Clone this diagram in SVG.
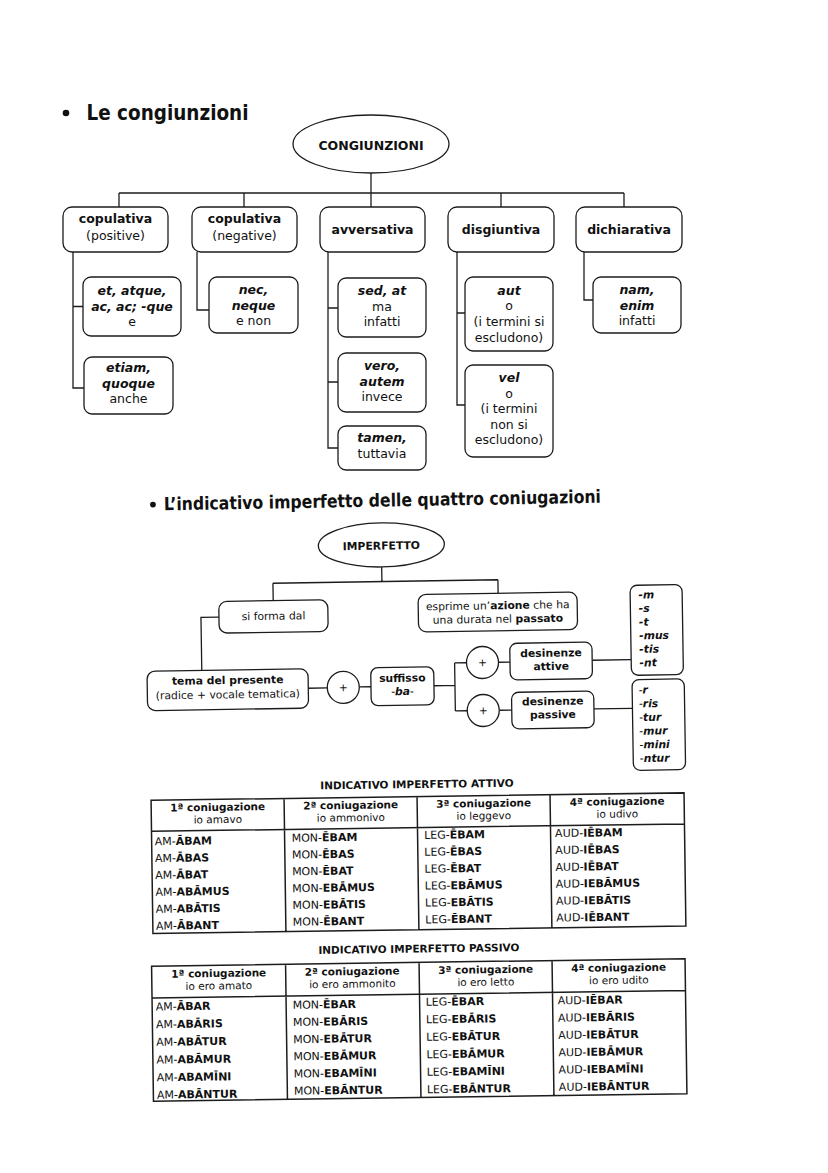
<svg xmlns="http://www.w3.org/2000/svg" width="828" height="1173" viewBox="0 0 828 1173">
<style>
.ln{fill:none;stroke:#1c1c1c;stroke-width:1.3}
.bx{fill:#fff;stroke:#1c1c1c;stroke-width:1.3}
.tb{fill:none;stroke:#1c1c1c;stroke-width:1.5}
text{font-family:"DejaVu Sans",Verdana,sans-serif;fill:#111}
.t{font-size:12.5px;text-anchor:middle}
.s{font-size:10.8px;text-anchor:middle}
.e{font-size:10.8px;font-weight:bold;font-style:italic}
.d{font-size:11px}
.h{font-size:10.5px;text-anchor:middle}
.b{font-weight:bold}
.bi{font-weight:bold;font-style:italic}
.r{font-weight:normal;font-style:normal}
</style>
<rect width="828" height="1173" fill="#fff"/>

<!-- Section 1 title -->
<g id="title1">
<circle cx="66" cy="113" r="3.3" fill="#111"/>
<text x="86.5" y="120" font-size="20.5" font-weight="bold" textLength="162" lengthAdjust="spacingAndGlyphs">Le congiunzioni</text>
</g>

<!-- connectors section 1 -->
<g id="connectors1" class="ln">
<path d="M371 173V207"/>
<path d="M119 193H624M119 193V207M244 193V207M501 193V207M624 193V207"/>
<path d="M73 252V388H84M73 306.5H83"/>
<path d="M197 252V310H209"/>
<path d="M328 252V448H338M328 308H338M328 382H338"/>
<path d="M457 252V405H465M457 313H465"/>
<path d="M584 252V300H593"/>
</g>

<g id="congiunzioni">
<ellipse class="bx" cx="371" cy="144" rx="78" ry="29"/>
<text class="t b" x="371" y="149.5" font-size="12">CONGIUNZIONI</text>
</g>
<g id="copulativa-pos">
<rect class="bx" x="63" y="207" width="105" height="45" rx="9"/>
<text class="t b" x="115.5" y="223" font-size="12.2">copulativa</text>
<text class="t" x="115.5" y="240">(positive)</text>
</g>
<g id="copulativa-neg">
<rect class="bx" x="192" y="207" width="105" height="45" rx="9"/>
<text class="t b" x="244.5" y="223" font-size="12.2">copulativa</text>
<text class="t" x="244.5" y="240">(negative)</text>
</g>
<g id="avversativa">
<rect class="bx" x="320" y="207" width="105" height="45" rx="9"/>
<text class="t b" x="372.5" y="234" font-size="12.2">avversativa</text>
</g>
<g id="disgiuntiva">
<rect class="bx" x="448" y="207" width="106" height="45" rx="9"/>
<text class="t b" x="501" y="234" font-size="12.2">disgiuntiva</text>
</g>
<g id="dichiarativa">
<rect class="bx" x="576" y="207" width="106" height="45" rx="9"/>
<text class="t b" x="629" y="234" font-size="12.2">dichiarativa</text>
</g>

<g id="et">
<rect class="bx" x="83" y="277" width="98" height="59" rx="8"/>
<text class="t bi" x="132" y="295">et, atque,</text>
<text class="t bi" x="132" y="310.5">ac, ac; -que</text>
<text class="t" x="132" y="326">e</text>
</g>
<g id="etiam">
<rect class="bx" x="84" y="357" width="89" height="57" rx="8"/>
<text class="t bi" x="128.5" y="372">etiam,</text>
<text class="t bi" x="128.5" y="387.5">quoque</text>
<text class="t" x="128.5" y="403">anche</text>
</g>
<g id="nec">
<rect class="bx" x="209" y="277" width="89" height="56" rx="8"/>
<text class="t bi" x="253.5" y="294">nec,</text>
<text class="t bi" x="253.5" y="309.5">neque</text>
<text class="t" x="253.5" y="325">e non</text>
</g>
<g id="sed">
<rect class="bx" x="338" y="278" width="88" height="59" rx="8"/>
<text class="t bi" x="382" y="295">sed, at</text>
<text class="t" x="382" y="310.5">ma</text>
<text class="t" x="382" y="326">infatti</text>
</g>
<g id="vero">
<rect class="bx" x="338" y="353" width="88" height="59" rx="8"/>
<text class="t bi" x="382" y="370">vero,</text>
<text class="t bi" x="382" y="385.5">autem</text>
<text class="t" x="382" y="401">invece</text>
</g>
<g id="tamen">
<rect class="bx" x="338" y="426" width="88" height="44" rx="8"/>
<text class="t bi" x="382" y="442">tamen,</text>
<text class="t" x="382" y="457.5">tuttavia</text>
</g>
<g id="aut">
<rect class="bx" x="465" y="277" width="88" height="74" rx="8"/>
<text class="t bi" x="509" y="294.5">aut</text>
<text class="t" x="509" y="310">o</text>
<text class="t" x="509" y="326">(i termini si</text>
<text class="t" x="509" y="342">escludono)</text>
</g>
<g id="vel">
<rect class="bx" x="465" y="365" width="88" height="92" rx="8"/>
<text class="t bi" x="509" y="382">vel</text>
<text class="t" x="509" y="397.5">o</text>
<text class="t" x="509" y="413">(i termini</text>
<text class="t" x="509" y="428.5">non si</text>
<text class="t" x="509" y="444">escludono)</text>
</g>
<g id="nam">
<rect class="bx" x="593" y="277" width="88" height="56" rx="8"/>
<text class="t bi" x="637" y="294">nam,</text>
<text class="t bi" x="637" y="309.5">enim</text>
<text class="t" x="637" y="325">infatti</text>
</g>

<!-- Section 2 title -->
<g id="title2" transform="rotate(-1 385 506)">
<circle cx="153" cy="500.5" r="2.9" fill="#111"/>
<text x="164" y="506.5" font-size="18" font-weight="bold" textLength="437" lengthAdjust="spacingAndGlyphs">L’indicativo imperfetto delle quattro coniugazioni</text>
</g>

<!-- Imperfetto diagram -->
<g transform="rotate(-0.9 418 650)">
<g id="connectors2" class="ln">
<path d="M383 566.4V581M274 581H499M274 581V598.4M499 581V594.5"/>
<path d="M219.5 614H201.5V667"/>
<path d="M307.7 686.5H326.7M358.7 686H370.4"/>
<path d="M433.4 686H454.4M454.4 663.5V711.5M454.4 663.5H466.3M454.4 711.5H466.3"/>
<path d="M498.3 663.5H509.8M498.3 711.5H510.8"/>
<path d="M592 663H631M593 711.7H631.5"/>
</g>
<g id="imperfetto">
<ellipse class="bx" cx="383" cy="544.4" rx="63" ry="22"/>
<text class="s b" x="383" y="549" font-size="10.5">IMPERFETTO</text>
</g>
<g id="si-forma">
<rect class="bx" x="219.5" y="598.4" width="109" height="31.6" rx="8"/>
<text class="s" x="274" y="617.5">si forma dal</text>
</g>
<g id="esprime">
<rect class="bx" x="418.9" y="594.5" width="159" height="37.5" rx="8"/>
<text class="s" x="498.4" y="610.5">esprime un’<tspan class="b">azione</tspan> che ha</text>
<text class="s" x="498.4" y="624">una durata nel <tspan class="b">passato</tspan></text>
</g>
<g id="tema">
<rect class="bx" x="146.7" y="667" width="161" height="39.4" rx="8"/>
<text class="s b" x="227.2" y="681">tema del presente</text>
<text class="s" x="227.2" y="695.3">(radice + vocale tematica)</text>
</g>
<g id="plus1">
<circle class="bx" cx="342.7" cy="686.2" r="16"/>
<text class="s" x="342.7" y="690">+</text>
</g>
<g id="suffisso">
<rect class="bx" x="370.4" y="667" width="63" height="38" rx="7"/>
<text class="s b" x="401.9" y="681.5">suffisso</text>
<text class="s" x="401.9" y="694.8">-<tspan class="bi">ba</tspan>-</text>
</g>
<g id="plus2">
<circle class="bx" cx="482.3" cy="663.5" r="16"/>
<text class="s" x="482.3" y="667.3">+</text>
</g>
<g id="plus3">
<circle class="bx" cx="482.3" cy="711.5" r="16"/>
<text class="s" x="482.3" y="715.3">+</text>
</g>
<g id="desinenze-attive">
<rect class="bx" x="509.8" y="644.8" width="82.2" height="36.6" rx="7"/>
<text class="s b" x="550.9" y="658.8">desinenze</text>
<text class="s b" x="550.9" y="672.1">attive</text>
</g>
<g id="desinenze-passive">
<rect class="bx" x="510.8" y="693.8" width="82.2" height="36.6" rx="7"/>
<text class="s b" x="551.9" y="707.1">desinenze</text>
<text class="s b" x="551.9" y="720.4">passive</text>
</g>
<g id="attive-list">
<rect class="bx" x="631" y="588.7" width="52" height="90" rx="7"/>
<text class="e" x="639.3" y="602">-m</text>
<text class="e" x="639.3" y="615.6">-s</text>
<text class="e" x="639.3" y="629.2">-t</text>
<text class="e" x="639.3" y="642.8">-mus</text>
<text class="e" x="639.3" y="656.4">-tis</text>
<text class="e" x="639.3" y="670">-nt</text>
</g>
<g id="passive-list">
<rect class="bx" x="631.5" y="683" width="52.2" height="90.8" rx="7"/>
<text class="e" x="638" y="697.1"><tspan class="r">-</tspan>r</text>
<text class="e" x="638" y="710.8"><tspan class="r">-</tspan>ris</text>
<text class="e" x="638" y="724.5"><tspan class="r">-</tspan>tur</text>
<text class="e" x="638" y="738.2"><tspan class="r">-</tspan>mur</text>
<text class="e" x="638" y="751.9"><tspan class="r">-</tspan>mini</text>
<text class="e" x="638" y="765.6"><tspan class="r">-</tspan>ntur</text>
</g>
</g>

<!-- Table 1 -->
<g id="tabella-attivo" transform="rotate(-0.8 418 865)">
<text class="h b" x="418" y="788" font-size="11.2">INDICATIVO IMPERFETTO ATTIVO</text>
<path class="tb" d="M152 796.6H685V929.7H152ZM152 827.6H685M285 796.6V929.7M418 796.6V929.7M551 796.6V929.7"/>
<text class="h b" x="218.5" y="808">1ª coniugazione</text>
<text class="h" x="218.5" y="820.4">io amavo</text>
<text class="h b" x="351.5" y="808">2ª coniugazione</text>
<text class="h" x="351.5" y="820.4">io ammonivo</text>
<text class="h b" x="484.5" y="808">3ª coniugazione</text>
<text class="h" x="484.5" y="820.4">io leggevo</text>
<text class="h b" x="618" y="808">4ª coniugazione</text>
<text class="h" x="618" y="820.4">io udivo</text>
<g class="d">
<text x="155" y="841.5">AM-<tspan class="b">ĀBAM</tspan></text>
<text x="155" y="858.4">AM-<tspan class="b">ĀBAS</tspan></text>
<text x="155" y="875.3">AM-<tspan class="b">ĀBAT</tspan></text>
<text x="155" y="892.2">AM-<tspan class="b">ABĀMUS</tspan></text>
<text x="155" y="909.1">AM-<tspan class="b">ABĀTIS</tspan></text>
<text x="155" y="926">AM-<tspan class="b">ĀBANT</tspan></text>
<text x="292" y="840">MON-<tspan class="b">ĒBAM</tspan></text>
<text x="292" y="856.8">MON-<tspan class="b">ĒBAS</tspan></text>
<text x="292" y="873.6">MON-<tspan class="b">ĒBAT</tspan></text>
<text x="292" y="890.4">MON-<tspan class="b">EBĀMUS</tspan></text>
<text x="292" y="907.2">MON-<tspan class="b">EBĀTIS</tspan></text>
<text x="292" y="924">MON-<tspan class="b">ĒBANT</tspan></text>
<text x="424.5" y="839">LEG-<tspan class="b">ĒBAM</tspan></text>
<text x="424.5" y="855.9">LEG-<tspan class="b">ĒBAS</tspan></text>
<text x="424.5" y="872.8">LEG-<tspan class="b">ĒBAT</tspan></text>
<text x="424.5" y="889.7">LEG-<tspan class="b">EBĀMUS</tspan></text>
<text x="424.5" y="906.6">LEG-<tspan class="b">EBĀTIS</tspan></text>
<text x="424.5" y="923.5">LEG-<tspan class="b">ĒBANT</tspan></text>
<text x="555.5" y="839">AUD-<tspan class="b">IĒBAM</tspan></text>
<text x="555.5" y="855.9">AUD-<tspan class="b">IĒBAS</tspan></text>
<text x="555.5" y="872.8">AUD-<tspan class="b">IĒBAT</tspan></text>
<text x="555.5" y="889.7">AUD-<tspan class="b">IEBĀMUS</tspan></text>
<text x="555.5" y="906.6">AUD-<tspan class="b">IEBĀTIS</tspan></text>
<text x="555.5" y="923.5">AUD-<tspan class="b">IĒBANT</tspan></text>
</g>
</g>

<!-- Table 2 -->
<g id="tabella-passivo" transform="rotate(-0.8 419 1030)">
<text class="h b" x="420" y="952.5" font-size="11.2">INDICATIVO IMPERFETTO PASSIVO</text>
<path class="tb" d="M152.5 962.4H686V1097.5H152.5ZM152.5 994.2H686M286.5 962.4V1097.5M420 962.4V1097.5M553 962.4V1097.5"/>
<text class="h b" x="219.5" y="974.2">1ª coniugazione</text>
<text class="h" x="219.5" y="986.7">io ero amato</text>
<text class="h b" x="353" y="974.2">2ª coniugazione</text>
<text class="h" x="353" y="986.7">io ero ammonito</text>
<text class="h b" x="486.5" y="974.2">3ª coniugazione</text>
<text class="h" x="486.5" y="986.7">io ero letto</text>
<text class="h b" x="619.5" y="974.2">4ª coniugazione</text>
<text class="h" x="619.5" y="986.7">io ero udito</text>
<g class="d">
<text x="156" y="1006.8">AM-<tspan class="b">ĀBAR</tspan></text>
<text x="156" y="1024.5">AM-<tspan class="b">ABĀRIS</tspan></text>
<text x="156" y="1042.2">AM-<tspan class="b">ABĀTUR</tspan></text>
<text x="156" y="1059.9">AM-<tspan class="b">ABĀMUR</tspan></text>
<text x="156" y="1077.6">AM-<tspan class="b">ABAMĪNI</tspan></text>
<text x="156" y="1095">AM-<tspan class="b">ABĀNTUR</tspan></text>
<text x="293" y="1007">MON-<tspan class="b">ĒBAR</tspan></text>
<text x="293" y="1024.2">MON-<tspan class="b">EBĀRIS</tspan></text>
<text x="293" y="1041.4">MON-<tspan class="b">EBĀTUR</tspan></text>
<text x="293" y="1058.6">MON-<tspan class="b">EBĀMUR</tspan></text>
<text x="293" y="1075.8">MON-<tspan class="b">EBAMĪNI</tspan></text>
<text x="293" y="1093">MON-<tspan class="b">EBĀNTUR</tspan></text>
<text x="426" y="1005.9">LEG-<tspan class="b">ĒBAR</tspan></text>
<text x="426" y="1023.4">LEG-<tspan class="b">EBĀRIS</tspan></text>
<text x="426" y="1040.9">LEG-<tspan class="b">EBĀTUR</tspan></text>
<text x="426" y="1058.4">LEG-<tspan class="b">EBĀMUR</tspan></text>
<text x="426" y="1075.9">LEG-<tspan class="b">EBAMĪNI</tspan></text>
<text x="426" y="1093.4">LEG-<tspan class="b">EBĀNTUR</tspan></text>
<text x="558" y="1006.3">AUD-<tspan class="b">IĒBAR</tspan></text>
<text x="558" y="1023.6">AUD-<tspan class="b">IEBĀRIS</tspan></text>
<text x="558" y="1040.9">AUD-<tspan class="b">IEBĀTUR</tspan></text>
<text x="558" y="1058.2">AUD-<tspan class="b">IEBĀMUR</tspan></text>
<text x="558" y="1075.5">AUD-<tspan class="b">IEBAMĪNI</tspan></text>
<text x="558" y="1092.8">AUD-<tspan class="b">IEBĀNTUR</tspan></text>
</g>
</g>
</svg>
